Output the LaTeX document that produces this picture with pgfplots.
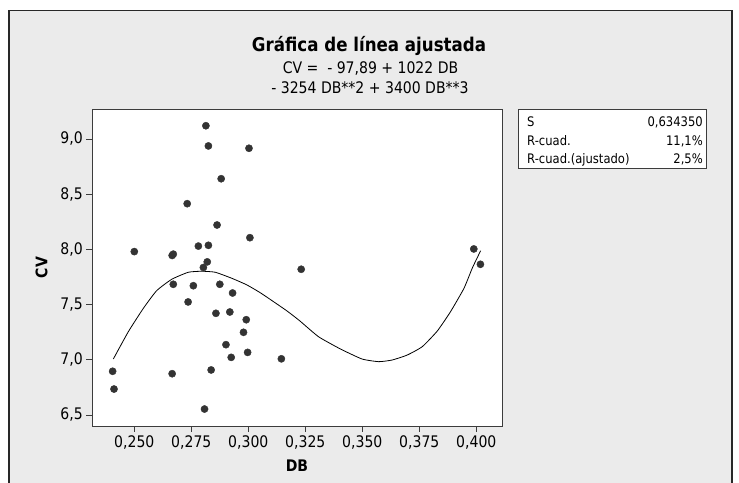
\documentclass[border=0pt]{standalone}
\usepackage{pgfplots}
\pgfplotsset{compat=1.18}
\usepackage{fontspec}
\setmainfont{DejaVu Sans}[FakeStretch=0.88]
\definecolor{bggray}{RGB}{235,235,235}
\definecolor{framecol}{RGB}{40,40,40}
\definecolor{axcol}{RGB}{60,60,60}
\definecolor{dotcol}{RGB}{51,51,51}
\begin{document}
\begin{tikzpicture}[x=1bp,y=1bp]
\clip (0,0) rectangle (739,483);
\fill[white] (0,0) rectangle (739,483);
\draw[fill=bggray, draw=framecol, line width=1.3bp] (9,-20) rectangle (732,472.3);
% titles
\node[anchor=base, inner sep=0pt, font=\bfseries\fontsize{19}{22}\selectfont] at (369,431.3) {Gráfica de línea ajustada};
\node[anchor=base, inner sep=0pt, font=\fontsize{16}{18}\selectfont] at (370.5,409.7) {CV =\ \ - 97,89 + 1022 DB};
\node[anchor=base, inner sep=0pt, font=\fontsize{16}{18}\selectfont] at (370,389.7) {- 3254 DB**2 + 3400 DB**3};
% stats box
\draw[fill=white, draw=axcol, line width=0.9bp] (518,315) rectangle (706,374);
\begin{scope}[every node/.style={inner sep=0pt, font=\fontsize{13.2}{15}\selectfont}]
\node[anchor=base west] at (527,356.5) {S};
\node[anchor=base east] at (703,356.5) {0,634350};
\node[anchor=base west] at (527,337) {R-cuad.};
\node[anchor=base east] at (703,337) {11,1\%};
\node[anchor=base west] at (527,319.8) {R-cuad.(ajustado)};
\node[anchor=base east] at (703,319.8) {2,5\%};
\end{scope}
\begin{axis}[
  at={(92bp,57bp)}, anchor=south west,
  scale only axis, width=410bp, height=317bp,
  xmin=0.23145, xmax=0.41127, ymin=6.4004, ymax=9.2717,
  axis background/.style={fill=white},
  axis line style={draw=axcol, line width=0.9bp},
  every tick/.style={draw=axcol, line width=0.9bp},
  tick align=outside, major tick length=5.7bp,
  xtick pos=bottom, ytick pos=left,
  xtick={0.25,0.275,0.3,0.325,0.35,0.375,0.4},
  xticklabels={{0,250},{0,275},{0,300},{0,325},{0,350},{0,375},{0,400}},
  ytick={6.5,7,7.5,8,8.5,9},
  yticklabels={{6,5},{7,0},{7,5},{8,0},{8,5},{9,0}},
  ticklabel style={font=\fontsize{16}{18}\selectfont},
  xlabel={DB}, ylabel={CV},
  label style={font=\bfseries\fontsize{16}{18}\selectfont},
  xlabel style={at={(ticklabel cs:0.5)}, anchor=north, yshift=-4bp},
  ylabel style={at={(ticklabel cs:0.5)}, anchor=south, yshift=6bp},
  clip=false,
]
\addplot[black, line width=0.8bp, smooth, tension=0.3] coordinates {
(0.2408,7.007) (0.2474,7.255) (0.2540,7.467) (0.2598,7.626) (0.2664,7.729)
(0.2737,7.793) (0.2796,7.802) (0.2855,7.793) (0.2928,7.738) (0.2994,7.678)
(0.3052,7.608) (0.3111,7.526) (0.3170,7.442) (0.3225,7.354) (0.3308,7.209)
(0.3404,7.098) (0.3499,7.007) (0.3572,6.983) (0.3631,6.998) (0.3697,7.043)
(0.3763,7.119) (0.3829,7.261) (0.3887,7.436) (0.3946,7.648) (0.3982,7.829)
(0.4019,7.988)
};
\addplot[only marks, mark=*, mark size=3.6bp, mark options={fill=dotcol, draw=dotcol}] coordinates {
(0.2814,9.12) (0.2825,8.937) (0.3003,8.916) (0.2881,8.64) (0.2732,8.414)
(0.2863,8.221) (0.3007,8.106) (0.2500,7.98) (0.2666,7.945) (0.2671,7.957)
(0.2781,8.03) (0.2825,8.037) (0.2820,7.887) (0.2803,7.836) (0.3232,7.82)
(0.2671,7.684) (0.2759,7.671) (0.2875,7.684) (0.2931,7.605) (0.2736,7.524)
(0.2858,7.421) (0.2919,7.433) (0.2991,7.363) (0.2979,7.249) (0.2902,7.137)
(0.2925,7.022) (0.2997,7.067) (0.3145,7.009) (0.2837,6.908) (0.2405,6.896)
(0.2411,6.735) (0.2666,6.874) (0.2808,6.554) (0.3989,8.004) (0.4018,7.865)
};
\end{axis}
\end{tikzpicture}
\end{document}
